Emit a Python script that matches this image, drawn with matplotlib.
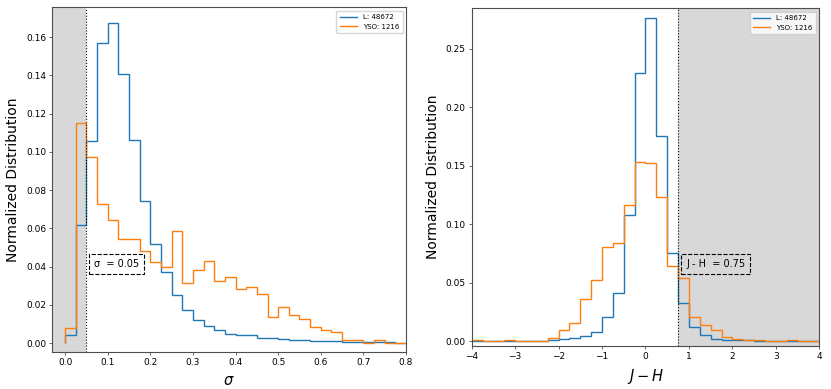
import numpy as np
import matplotlib.pyplot as plt

# sigma histogram (bin width 0.025 from 0 to 0.8)
sigma_edges = np.arange(0, 0.8001, 0.025)
sigma_L = [0.0040, 0.0617, 0.1055, 0.1570, 0.1675, 0.1407, 0.1060, 0.0744,
           0.0516, 0.0370, 0.0249, 0.0171, 0.0119, 0.0091, 0.0070, 0.0049,
           0.0040, 0.0040, 0.0026, 0.0026, 0.0021, 0.0017, 0.0017, 0.0012,
           0.0010, 0.0010, 0.0008, 0.0008, 0.0005, 0.0004, 0.0003, 0.0002]
sigma_yso = [0.0077, 0.1152, 0.0974, 0.0725, 0.0643, 0.0544, 0.0544, 0.0480,
             0.0422, 0.0396, 0.0586, 0.0314, 0.0380, 0.0429, 0.0324, 0.0347,
             0.0282, 0.0295, 0.0256, 0.0134, 0.0190, 0.0145, 0.0126, 0.0084,
             0.0066, 0.0059, 0.0017, 0.0017, 0.0000, 0.0017, 0.0000, 0.0000]

# J-H histogram (bin width 0.25 from -4 to 4)
jh_edges = np.arange(-4, 4.001, 0.25)
jh_L = [0.0002, 0.0002, 0.0002, 0.0003, 0.0003, 0.0004, 0.0005, 0.0011,
        0.0017, 0.0026, 0.0048, 0.0077, 0.0208, 0.0410, 0.1080, 0.2298,
        0.2768, 0.1754, 0.0758, 0.0328, 0.0125, 0.0057, 0.0022, 0.0013,
        0.0010, 0.0008, 0.0005, 0.0004, 0.0003, 0.0005, 0.0002, 0.0002]
jh_yso = [0.0009, 0.0000, 0.0000, 0.0009, 0.0003, 0.0003, 0.0003, 0.0026,
          0.0097, 0.0160, 0.0359, 0.0522, 0.0807, 0.0841, 0.1163, 0.1536,
          0.1522, 0.1237, 0.0647, 0.0544, 0.0205, 0.0139, 0.0094, 0.0034,
          0.0023, 0.0009, 0.0009, 0.0003, 0.0003, 0.0014, 0.0003, 0.0003]

labels = ['L: 48672', 'YSO: 1216']
sigma_cut = 0.05
jh_cut = 0.75

fig = plt.figure(figsize=(8.31, 3.89), dpi=100)
ax1 = fig.add_axes([0.063, 0.095, 0.4256, 0.886])
ax2 = fig.add_axes([0.5676, 0.1113, 0.4183, 0.8674])

for ax in (ax1, ax2):
    for s in ax.spines.values():
        s.set_color('0.3')
        s.set_linewidth(0.8)
    ax.tick_params(labelsize=6.5, length=2.5, width=0.6, color='0.3', pad=2)

# left: sigma
ax1.axvspan(-0.03, sigma_cut, color='#d8d8d8', zorder=0, lw=0)
ax1.axvline(sigma_cut, color='k', ls=':', lw=0.8)
ax1.stairs(sigma_L, sigma_edges, color='tab:blue', lw=1.0, label=labels[0])
ax1.stairs(sigma_yso, sigma_edges, color='tab:orange', lw=1.0, label=labels[1])
ax1.set_xlim(-0.03, 0.8)
ax1.set_ylim(-0.0047, 0.1755)
ax1.set_xticks(np.arange(0, 0.81, 0.1))
ax1.set_yticks(np.arange(0, 0.161, 0.02))
ax1.yaxis.set_major_formatter(plt.FormatStrFormatter('%.2f'))
ax1.xaxis.set_major_formatter(plt.FormatStrFormatter('%.1f'))
ax1.text(0.12, 0.0415, 'σ  = 0.05', fontsize=7, ha='center', va='center',
         bbox=dict(boxstyle='square,pad=0.5', fc='none', ec='k', ls='--', lw=0.8))
ax1.set_xlabel(r'$\sigma$', fontsize=10.5)
ax1.set_ylabel('Normalized Distribution', fontsize=10)
ax1.legend(loc='upper right', fontsize=5, handlelength=2.5, borderpad=0.5)

# right: J-H
ax2.axvspan(jh_cut, 4, color='#d8d8d8', zorder=0, lw=0)
ax2.axvline(jh_cut, color='k', ls=':', lw=0.8)
ax2.stairs(jh_L, jh_edges, color='tab:blue', lw=1.0, label=labels[0])
ax2.stairs(jh_yso, jh_edges, color='tab:orange', lw=1.0, label=labels[1])
ax2.set_xlim(-4, 4)
ax2.set_ylim(-0.0037, 0.2848)
ax2.set_yticks(np.arange(0, 0.251, 0.05))
ax2.yaxis.set_major_formatter(plt.FormatStrFormatter('%.2f'))
ax2.text(1.62, 0.066, 'J - H  = 0.75', fontsize=7, ha='center', va='center',
         bbox=dict(boxstyle='square,pad=0.5', fc='none', ec='k', ls='--', lw=0.8))
ax2.set_xlabel(r'$J - H$', fontsize=10.5)
ax2.set_ylabel('Normalized Distribution', fontsize=10)
ax2.legend(loc='upper right', fontsize=5, handlelength=2.5, borderpad=0.5)

fig.savefig('out.png', dpi=100)
